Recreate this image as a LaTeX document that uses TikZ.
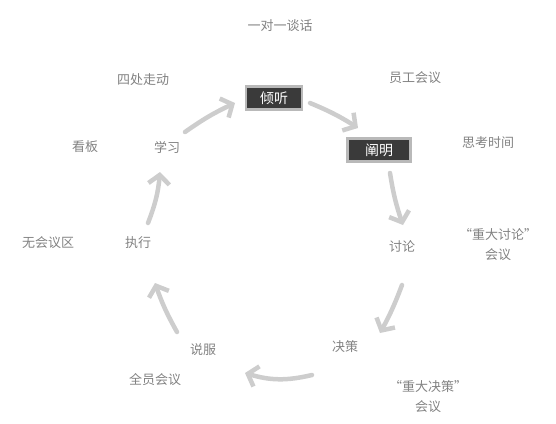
\documentclass[tikz,border=0pt]{standalone}
\usepackage{fontspec}
\setmainfont{Noto Sans CJK SC}
\usetikzlibrary{arrows.meta}
\definecolor{txtgray}{RGB}{130,130,130}
\definecolor{arrgray}{RGB}{205,205,205}
\definecolor{boxfill}{RGB}{58,58,58}
\definecolor{boxline}{RGB}{185,185,185}
\tikzset{
  lbl/.style={font=\fontsize{13}{20}\selectfont, text=txtgray, inner sep=1pt, align=center},
  keybox/.style={font=\fontsize{14}{16}\selectfont, text=white, fill=boxfill, draw=boxline,
    line width=2.5pt, minimum height=23pt, inner sep=0pt},
  arr/.style={draw=arrgray, line width=4.5pt, line cap=round, line join=round,
    -{Straight Barb[length=9pt,width=21pt,line width=4.5pt]}}
}
\begin{document}
\begin{tikzpicture}[x=1pt,y=-1pt]
\useasboundingbox (0,0) rectangle (556,423);
\node[lbl] (title) at (280,26) {一对一谈话};
\node[keybox, minimum width=56pt] (qingting) at (274,98) {倾听};
\node[keybox, minimum width=63pt] (chanming) at (379,150) {阐明};
\node[lbl] (yuangong) at (415,78) {员工会议};
\node[lbl] (sikao) at (488,143) {思考时间};
\node[lbl] (taolun) at (402,246) {讨论};
\node[lbl] (zd1) at (498,245) {“重大讨论”\\会议};
\node[lbl] (juece) at (345,347) {决策};
\node[lbl] (zd2) at (428,397) {“重大决策”\\会议};
\node[lbl] (quanyuan) at (155,380) {全员会议};
\node[lbl] (shuofu) at (203,350) {说服};
\node[lbl] (wuhuiyi) at (48,243) {无会议区};
\node[lbl] (zhixing) at (138,243) {执行};
\node[lbl] (kanban) at (85,147) {看板};
\node[lbl] (xuexi) at (167,147) {学习};
\node[lbl] (sichu) at (143,80) {四处走动};

\draw[arr] ([shift={(18,-15)}]xuexi.center) to[bend left=5] ([shift={(-39,5)}]qingting.center);
\draw[arr] ([shift={(36,5)}]qingting.center) to[bend left=5] ([shift={(-21,-22)}]chanming.center);
\draw[arr] ([shift={(11,23)}]chanming.center) to[bend right=5] ([shift={(1,-21)}]taolun.center);
\draw[arr] ([shift={(0,39)}]taolun.center) to[bend left=4] ([shift={(35,-14)}]juece.center);
\draw[arr] ([shift={(-33,28)}]juece.center) to[bend left=15] ([shift={(42,23)}]shuofu.center);
\draw[arr] ([shift={(-26,-18)}]shuofu.center) to[bend left=5] ([shift={(17,40)}]zhixing.center);
\draw[arr] ([shift={(10,-20)}]zhixing.center) to[bend right=8] ([shift={(-7,25)}]xuexi.center);
\end{tikzpicture}
\end{document}
